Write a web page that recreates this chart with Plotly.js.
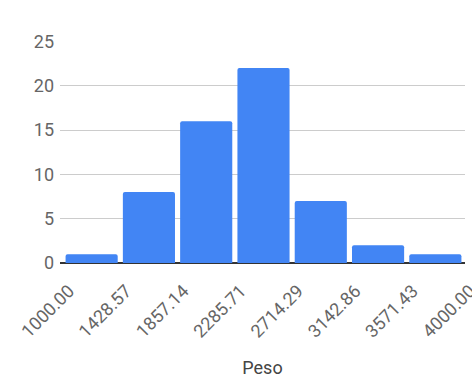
<!DOCTYPE html>
<html>
<head>
<meta charset="utf-8">
<script src="https://cdn.plot.ly/plotly-3.0.1.min.js"></script>
<style>
  html, body { margin: 0; padding: 0; background: #fff; }
  #chart { width: 472px; height: 378px; }
</style>
</head>
<body>
<div id="chart"></div>
<script>
// Histogram of Peso: bin edges and counts per bin
const binEdges = [1000.00, 1428.57, 1857.14, 2285.71, 2714.29, 3142.86, 3571.43, 4000.00];
const edgeLabels = ["1000.00", "1428.57", "1857.14", "2285.71", "2714.29", "3142.86", "3571.43", "4000.00"];
const counts = [1, 8, 16, 22, 7, 2, 1];
const yTicks = [0, 5, 10, 15, 20, 25];

const centers = counts.map((_, i) => (binEdges[i] + binEdges[i + 1]) / 2);
const widths = counts.map((_, i) => (binEdges[i + 1] - binEdges[i]) * 0.91);

const trace = {
  type: 'bar',
  x: centers,
  y: counts,
  width: widths,
  marker: { color: '#4285f4', cornerradius: 2, line: { width: 0 } },
  hoverinfo: 'skip'
};

const layout = {
  width: 472,
  height: 378,
  margin: { l: 60, r: 7, t: 41, b: 115 },
  paper_bgcolor: '#ffffff',
  plot_bgcolor: '#ffffff',
  font: { family: 'Roboto, Arial, sans-serif', color: '#444' },
  showlegend: false,
  xaxis: {
    type: 'linear',
    range: [977.6, 4007.5],
    tickmode: 'array',
    tickvals: binEdges,
    ticktext: edgeLabels,
    tickangle: -45,
    tickfont: { size: 18, color: '#666' },
    ticklabelstandoff: 13,
    ticklabelshift: 6,
    ticklabeloverflow: 'allow',
    showgrid: false,
    zeroline: false,
    showline: false,
    ticks: '',
    automargin: false,
    title: { text: 'Peso', font: { size: 18, color: '#444' }, standoff: 22 }
  },
  yaxis: {
    range: [0, 25.05],
    tickmode: 'array',
    tickvals: yTicks,
    ticktext: yTicks.map(String),
    tickfont: { size: 18, color: '#666' },
    showgrid: true,
    gridcolor: '#cccccc',
    gridwidth: 1,
    zeroline: true,
    zerolinecolor: '#333333',
    zerolinewidth: 1.5,
    showline: false,
    ticks: '',
    ticklen: 0,
    ticklabelstandoff: 5,
    automargin: false
  }
};

Plotly.newPlot('chart', [trace], layout, { displayModeBar: false, staticPlot: true });
</script>
</body>
</html>
